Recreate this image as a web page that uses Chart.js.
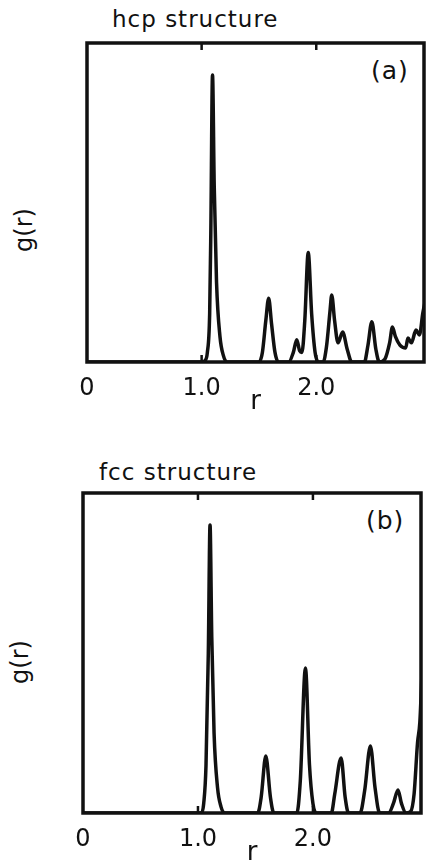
<!DOCTYPE html>
<html>
<head>
<meta charset="utf-8">
<script src="https://cdn.jsdelivr.net/npm/chart.js@4.4.0/dist/chart.umd.min.js"></script>
<style>
  body { margin: 0; background: #fff; width: 426px; height: 865px; position: relative; overflow: hidden;
         font-family: "DejaVu Sans", sans-serif; color: #111; }
  canvas { position: absolute; left: 0; }
  .lbl { position: absolute; white-space: nowrap; line-height: 1; }
  .rot { transform: translate(-50%, -50%) rotate(-90deg); }
</style>
</head>
<body>
<div class="lbl" style="left:112px;top:8px;font-size:23px;letter-spacing:1px">hcp structure</div>
<div class="lbl" style="left:371px;top:58px;font-size:25px;letter-spacing:1px">(a)</div>
<div class="lbl rot" style="left:24px;top:230px;font-size:24px">g(r)</div>
<canvas id="hcpChart" width="426" height="425" style="top:0"></canvas>

<div class="lbl" style="left:99px;top:461px;font-size:23px;letter-spacing:1px">fcc structure</div>
<div class="lbl" style="left:366px;top:508px;font-size:25px;letter-spacing:1px">(b)</div>
<div class="lbl rot" style="left:20px;top:662px;font-size:24px">g(r)</div>
<canvas id="fccChart" width="426" height="425" style="top:440px"></canvas>

<script>
  // x axis ticks
  const xTicks = [0, 1.0, 2.0];
  const xTickLabels = ['0', '1.0', '2.0'];

  // (a) hcp structure, g(r)
  const hcpR = [0, 1.00, 1.03, 1.05, 1.07, 1.08, 1.095, 1.11, 1.13, 1.16, 1.19, 1.22,
    1.50, 1.53, 1.56, 1.585, 1.61, 1.64, 1.67,
    1.76, 1.80, 1.83, 1.855, 1.875, 1.90, 1.93, 1.96, 1.99, 2.02,
    2.06, 2.09, 2.12, 2.135, 2.16, 2.19, 2.23, 2.27, 2.31,
    2.42, 2.45, 2.485, 2.52, 2.55,
    2.60, 2.64, 2.665, 2.69, 2.73, 2.78, 2.80, 2.83, 2.87, 2.90, 2.93, 2.95];
  const hcpG = [0, 0, 0.05, 0.3, 1.5, 4.0, 9.0, 5.5, 2.5, 0.8, 0.2, 0,
    0, 0.3, 1.3, 2.0, 1.2, 0.3, 0,
    0, 0.3, 0.7, 0.35, 0.3, 1.3, 3.43, 1.5, 0.3, 0,
    0, 0.5, 1.6, 2.1, 1.3, 0.6, 0.94, 0.4, 0,
    0, 0.5, 1.26, 0.4, 0,
    0.1, 0.6, 1.1, 0.8, 0.53, 0.44, 0.75, 0.6, 1.0, 0.85, 1.54, 1.9];

  // (b) fcc structure
  const fccR = [0, 1.03, 1.05, 1.07, 1.09, 1.105, 1.12, 1.14, 1.17, 1.20, 1.23,
    1.52, 1.55, 1.59, 1.63, 1.66,
    1.86, 1.89, 1.935, 1.97, 2.0, 2.03,
    2.16, 2.19, 2.245, 2.28, 2.31,
    2.41, 2.45, 2.50, 2.54, 2.58,
    2.66, 2.70, 2.74, 2.77, 2.81,
    2.85, 2.88, 2.91, 2.93, 2.95];
  const fccG = [0, 0, 0.3, 1.5, 5.0, 9.0, 5.5, 2.5, 0.8, 0.2, 0,
    0, 0.5, 1.78, 0.5, 0,
    0, 1.0, 4.53, 1.5, 0.3, 0,
    0, 0.6, 1.72, 0.5, 0,
    0, 0.7, 2.09, 0.8, 0,
    0, 0.3, 0.72, 0.3, 0,
    0.05, 0.6, 2.2, 2.84, 4.5];

  const frame = {
    id: 'frame',
    afterDatasetsDraw(chart) {
      const { ctx, chartArea: a, scales } = chart;
      ctx.save();
      ctx.strokeStyle = '#111';
      ctx.lineWidth = 3.5;
      ctx.strokeRect(a.left, a.top, a.right - a.left, a.bottom - a.top);
      ctx.lineWidth = 2.5;
      xTicks.slice(1).forEach(v => {
        const x = scales.x.getPixelForValue(v);
        ctx.beginPath();
        ctx.moveTo(x, a.top); ctx.lineTo(x, a.top + 7);
        ctx.moveTo(x, a.bottom); ctx.lineTo(x, a.bottom - 7);
        ctx.stroke();
      });
      ctx.restore();
    }
  };

  function makeChart(id, rs, gs, pad) {
    return new Chart(document.getElementById(id).getContext('2d'), {
      type: 'line',
      data: {
        datasets: [{
          data: rs.map((r, i) => ({ x: r, y: gs[i] })),
          borderColor: '#111',
          borderWidth: 3.5,
          pointRadius: 0,
          cubicInterpolationMode: 'monotone'
        }]
      },
      options: {
        responsive: false,
        animation: false,
        devicePixelRatio: 1,
        layout: { padding: pad },
        scales: {
          x: {
            type: 'linear',
            min: 0,
            max: 2.94,
            grid: { display: false },
            border: { display: false },
            afterBuildTicks: s => { s.ticks = xTicks.map(v => ({ value: v })); },
            afterFit: s => { s.height = 50; },
            ticks: {
              padding: 4,
              color: '#111',
              font: { family: 'DejaVu Sans', size: 24 },
              callback: v => xTickLabels[xTicks.indexOf(v)]
            },
            title: {
              display: true,
              text: 'r',
              color: '#111',
              padding: { top: 0, bottom: -6 },
              font: { family: 'DejaVu Sans', size: 26 }
            }
          },
          y: { display: false, min: 0, max: 10 }
        },
        plugins: { legend: { display: false }, tooltip: { enabled: false } }
      },
      plugins: [frame]
    });
  }

  makeChart('hcpChart', hcpR, hcpG, { left: 87, top: 43, right: 2, bottom: 13 });
  makeChart('fccChart', fccR, fccG, { left: 83, top: 53, right: 5, bottom: 2 });
</script>
</body>
</html>
